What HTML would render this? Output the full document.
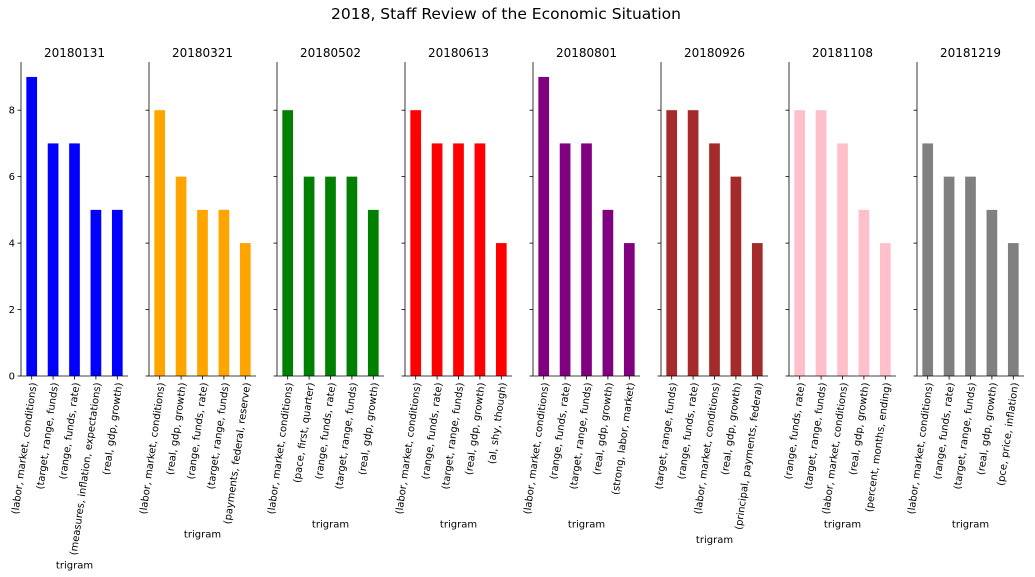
<!DOCTYPE html>
<html><head><meta charset="utf-8"><style>
body{margin:0;background:#fff}
svg{display:block;font-family:"DejaVu Sans","Liberation Sans",sans-serif}
</style></head><body>
<svg id="c" width="1035" height="577">
<text x="506" y="19" font-size="15.5" text-anchor="middle">2018, Staff Review of the Economic Situation</text>
</svg>
<script>
const dates=["20180131","20180321","20180502","20180613","20180801","20180926","20181108","20181219"];
const colors=["blue","orange","green","red","purple","brown","pink","grey"];
const labels=[
["(labor, market, conditions)","(target, range, funds)","(range, funds, rate)","(measures, inflation, expectations)","(real, gdp, growth)"],
["(labor, market, conditions)","(real, gdp, growth)","(range, funds, rate)","(target, range, funds)","(payments, federal, reserve)"],
["(labor, market, conditions)","(pace, first, quarter)","(range, funds, rate)","(target, range, funds)","(real, gdp, growth)"],
["(labor, market, conditions)","(range, funds, rate)","(target, range, funds)","(real, gdp, growth)","(al, shy, though)"],
["(labor, market, conditions)","(range, funds, rate)","(target, range, funds)","(real, gdp, growth)","(strong, labor, market)"],
["(target, range, funds)","(range, funds, rate)","(labor, market, conditions)","(real, gdp, growth)","(principal, payments, federal)"],
["(range, funds, rate)","(target, range, funds)","(labor, market, conditions)","(real, gdp, growth)","(percent, months, ending)"],
["(labor, market, conditions)","(range, funds, rate)","(target, range, funds)","(real, gdp, growth)","(pce, price, inflation)"]];
const values=[[9,7,7,5,5],[8,6,5,5,4],[8,6,6,6,5],[8,7,7,7,4],[9,7,7,5,4],[8,8,7,6,4],[8,8,7,5,4],[7,6,6,5,4]];
const yTicks=[0,2,4,6,8];
const NS="http://www.w3.org/2000/svg",svgEl=document.getElementById('c');
function mk(t,a,p){const e=document.createElementNS(NS,t);for(const k in a)e.setAttribute(k,a[k]);(p||svgEl).appendChild(e);return e;}
const topY=62,y0=376,ymax=9.45,aw=107,rot=82;
const yS=v=>y0-(v/ymax)*(y0-topY);
dates.forEach((d,i)=>{
 const x0=21+i*128;
 const g=mk('g',{});
 
 
 const t=mk('text',{x:x0+aw/2,y:57,'font-size':12,'text-anchor':'middle'},g);t.textContent=d;
 
 
 const cw=aw/values[i].length;
 let maxL=0;
 values[i].forEach((v,j)=>{
  const cx=x0+cw*(j+0.5);
  const r=mk('rect',{x:cx-cw/4,y:yS(v),width:cw/2,height:y0-yS(v),fill:colors[i]},g);
  
  
  mk('line',{x1:cx,x2:cx,y1:y0,y2:y0+3.5,stroke:'#000','stroke-width':0.8},g);
  const lt=mk('text',{x:0,y:0,'font-size':10,'text-anchor':'end',transform:`translate(${cx+5},${y0+7}) rotate(-${rot})`},g);
  lt.textContent=labels[i][j];
  
  
  maxL=Math.max(maxL,lt.getComputedTextLength());
 });
 yTicks.forEach(v=>{
  mk('line',{x1:x0-3.5,x2:x0,y1:yS(v),y2:yS(v),stroke:'#000','stroke-width':0.8},g);
  if(i===0){const yt=mk('text',{x:x0-6,y:yS(v)+3.5,'font-size':10,'text-anchor':'end'},g);yt.textContent=v;
   
   }
 });
 mk('line',{x1:x0,x2:x0,y1:topY,y2:y0,stroke:'#000','stroke-width':0.8},g);
 mk('line',{x1:x0,x2:x0+aw,y1:y0,y2:y0,stroke:'#000','stroke-width':0.8},g);
 const xl=mk('text',{x:x0+aw/2,y:y0+7+maxL*Math.sin(rot*Math.PI/180)+13,'font-size':10,'text-anchor':'middle'},g);
 xl.textContent='trigram';
 
 
});
</script>
</body></html>
